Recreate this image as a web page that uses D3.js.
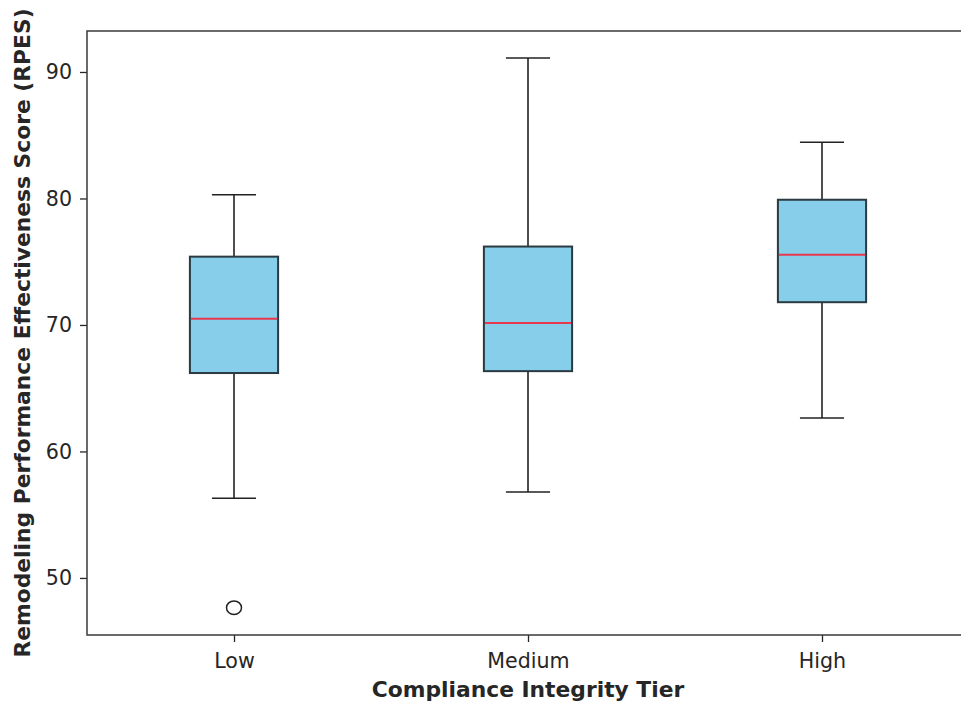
<!DOCTYPE html>
<html>
<head>
<meta charset="utf-8">
<script src="https://cdn.jsdelivr.net/npm/d3@7"></script>
<style>
  html, body { margin: 0; padding: 0; background: #fff; }
  svg { display: block; }
  text { font-family: "DejaVu Sans", sans-serif; fill: #262626; }
</style>
</head>
<body>
<svg id="chart" width="961" height="706"></svg>
<script>
const categories = ["Low", "Medium", "High"];
const whiskerLow = [56.3, 56.8, 62.65];
const q1 = [66.2, 66.35, 71.8];
const median = [70.5, 70.15, 75.55];
const q3 = [75.4, 76.2, 79.9];
const whiskerHigh = [80.3, 91.1, 84.45];
const outliers = [[47.65], [], []];
const yTicks = [50, 60, 70, 80, 90];

(function () {
const mLeft = 87, mRight = 969, mTop = 31, mBottom = 635;

const svg = d3.select("#chart");
const x = d3.scaleLinear().domain([0.5, 3.5]).range([mLeft, mRight]);
const y = d3.scaleLinear().domain([45.49, 93.24]).range([mBottom, mTop]);

const boxW = 0.3, capW = 0.15;

// axes
const yAxis = svg.append("g").attr("transform", `translate(${mLeft},0)`)
  .call(d3.axisLeft(y).tickValues(yTicks).tickSize(7).tickPadding(8).tickFormat(d3.format("d")));
const xAxis = svg.append("g").attr("transform", `translate(0,${mBottom})`)
  .call(d3.axisBottom(x).tickValues([1, 2, 3]).tickSize(7).tickPadding(11).tickFormat((d, i) => categories[i]));
[yAxis, xAxis].forEach(g => {
  g.select(".domain").remove();
  g.selectAll(".tick line").attr("stroke", "#262626").attr("stroke-width", 1.3);
  g.selectAll(".tick text").attr("font-size", 20.6).attr("fill", "#262626")
    .style("font-family", "DejaVu Sans, sans-serif");
});

// spines
svg.append("path")
  .attr("d", `M${mRight},${mTop}H${mLeft}V${mBottom}H${mRight}`)
  .attr("fill", "none").attr("stroke", "#3a3a3a").attr("stroke-width", 1.5);

// boxes
const g = svg.append("g");
categories.forEach((c, i) => {
  const p = i + 1;
  g.append("line").attr("x1", x(p)).attr("x2", x(p)).attr("y1", y(q3[i])).attr("y2", y(whiskerHigh[i]))
    .attr("stroke", "#222").attr("stroke-width", 1.6);
  g.append("line").attr("x1", x(p)).attr("x2", x(p)).attr("y1", y(q1[i])).attr("y2", y(whiskerLow[i]))
    .attr("stroke", "#222").attr("stroke-width", 1.6);
  [whiskerHigh[i], whiskerLow[i]].forEach(v => {
    g.append("line").attr("x1", x(p - capW / 2)).attr("x2", x(p + capW / 2))
      .attr("y1", y(v)).attr("y2", y(v)).attr("stroke", "#222").attr("stroke-width", 1.6);
  });
  g.append("rect").attr("x", x(p - boxW / 2)).attr("width", x(p + boxW / 2) - x(p - boxW / 2))
    .attr("y", y(q3[i])).attr("height", y(q1[i]) - y(q3[i]))
    .attr("fill", "#87CEEB").attr("stroke", "#2a3a40").attr("stroke-width", 2);
  g.append("line").attr("x1", x(p - boxW / 2) + 1).attr("x2", x(p + boxW / 2) - 1)
    .attr("y1", y(median[i])).attr("y2", y(median[i]))
    .attr("stroke", "#e8374f").attr("stroke-width", 2);
  outliers[i].forEach(v => {
    g.append("ellipse").attr("cx", x(p)).attr("cy", y(v)).attr("rx", 7.5).attr("ry", 6.8)
      .attr("fill", "none").attr("stroke", "#222").attr("stroke-width", 1.5);
  });
});

// axis labels
svg.append("text")
  .attr("transform", `translate(${(mLeft + mRight) / 2},697)`)
  .attr("text-anchor", "middle").attr("font-size", 21.8).attr("font-weight", "bold").attr("fill", "#111")
  .text("Compliance Integrity Tier");
svg.append("text")
  .attr("transform", `translate(30,${(mTop + mBottom) / 2}) rotate(-90)`)
  .attr("text-anchor", "middle").attr("font-size", 21.8).attr("font-weight", "bold").attr("fill", "#111")
  .text("Remodeling Performance Effectiveness Score (RPES)");
})();
</script>
</body>
</html>
